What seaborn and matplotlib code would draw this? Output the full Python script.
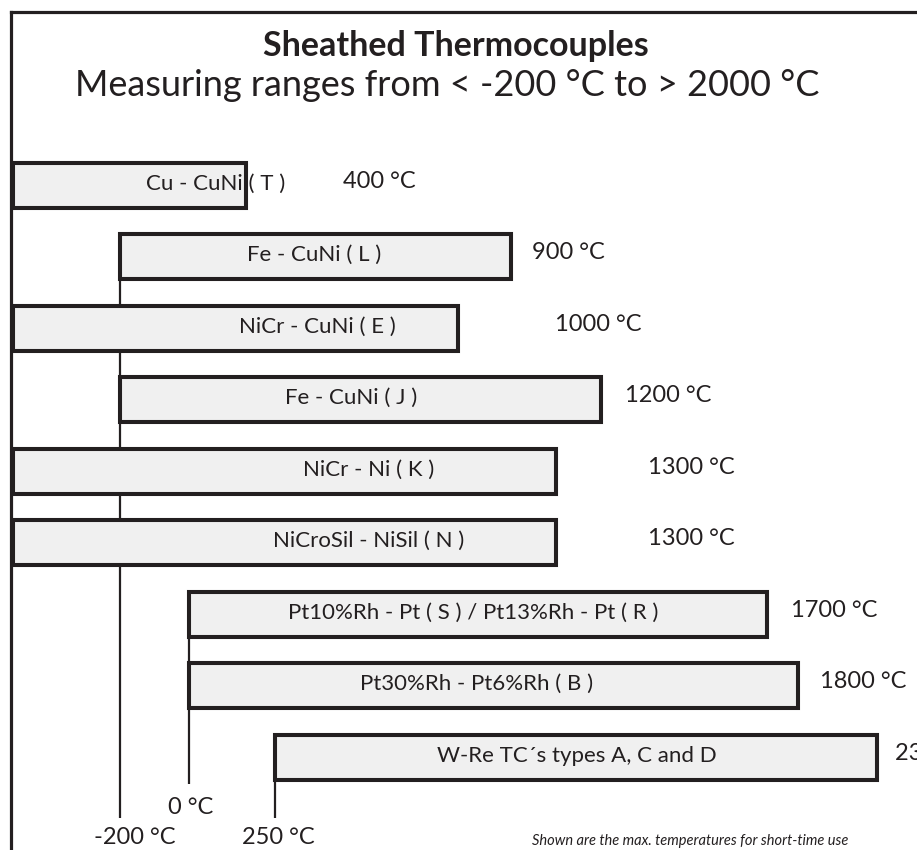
import numpy as np
import pandas as pd
import matplotlib
matplotlib.use("Agg")
import matplotlib.pyplot as plt
from matplotlib.patches import Rectangle
import seaborn as sns

# thermocouple pairs, top to bottom
pairs = ["Cu - CuNi ( T )", "Fe - CuNi ( L )", "NiCr - CuNi ( E )", "Fe - CuNi ( J )",
         "NiCr - Ni ( K )", "NiCroSil - NiSil ( N )",
         "Pt10%Rh - Pt ( S ) / Pt13%Rh - Pt ( R )", "Pt30%Rh - Pt6%Rh ( B )",
         "W-Re TC´s types A, C and D"]
# bar extents as drawn in the schematic, on the °C axis (left-edge bars start below -200)
bar_start = [-510, -200, -510, -200, -510, -510, 0, 0, 250]
bar_end = [165, 933, 780, 1194, 1064, 1064, 1675, 1765, 1994]
max_temp = ["400 °C", "900 °C", "1000 °C", "1200 °C", "1300 °C", "1300 °C",
            "1700 °C", "1800 °C", "2320 °C"]
# lower limits marked under the bars
ref_temps = [-200, 0, 250]
ref_labels = ["-200 °C", "0 °C", "250 °C"]

# layout: where the texts sit
name_x = [77, 362, 371, 470, 522, 522, 823, 833, 1123]
max_x = [446, 994, 1061, 1264, 1330, 1330, 1745, 1829, 2046]
ref_line_end = [8.85, 8.38, 8.85]
ref_label_y = [9.12, 8.70, 9.12]
ref_label_dx = [43, 6, 8]

ink = "#231f20"
fill = "#f0f0f0"

sns.set_theme(style="white")
plt.rcParams["font.family"] = ["Lato", "DejaVu Sans"]

fig = plt.figure(figsize=(9.17, 8.5), dpi=100)
ax = fig.add_axes([10.5 / 917, 0, 1 - 10.5 / 917, 1 - 11.5 / 850])

df = pd.DataFrame({"pair": pairs, "span": np.subtract(bar_end, bar_start)})
sns.barplot(data=df, x="span", y="pair", orient="h", width=0.63, color=fill,
            saturation=1, edgecolor=ink, linewidth=2.9, ax=ax, zorder=3)
# shift each bar to its lower limit, and redraw its frame above the names
for patch, s in zip(list(ax.patches), bar_start):
    patch.set_x(s)
    ax.add_patch(Rectangle(patch.get_xy(), patch.get_width(), patch.get_height(),
                           fill=False, edgecolor=ink, linewidth=2.9, zorder=5))

# vertical marker lines for the lower limits
for t, y_end in zip(ref_temps, ref_line_end):
    y_top = bar_start.index(t)
    ax.plot([t, t], [y_top, y_end], color=ink, lw=1.6, zorder=1, solid_capstyle="butt")

for t, lab, y, dx in zip(ref_temps, ref_labels, ref_label_y, ref_label_dx):
    ax.text(t + dx, y, lab, ha="center", va="center", fontsize=17, color=ink)

for i, (name, nx) in enumerate(zip(pairs, name_x)):
    ax.text(nx, i - 0.02, name, ha="center", va="center", fontsize=16, color=ink, zorder=4)

for i, (lab, mx) in enumerate(zip(max_temp, max_x)):
    ax.text(mx, i - 0.05, lab, ha="left", va="center", fontsize=17, color=ink, clip_on=False)

ax.set_xlim(-517.4, 2110)
ax.set_ylim(9.30, -2.427)
ax.set_xticks([])
ax.set_yticks([])
ax.set_xlabel("")
ax.set_ylabel("")
for side in ["right", "bottom"]:
    ax.spines[side].set_visible(False)
for side in ["left", "top"]:
    ax.spines[side].set_color(ink)
    ax.spines[side].set_linewidth(2.3)

fig.text(456 / 917, 1 - 46 / 850, "Sheathed Thermocouples", ha="center", va="center",
         fontsize=24.5, fontweight="bold", color=ink)
fig.text(447 / 917, 1 - 86 / 850, "Measuring ranges from < -200 °C to > 2000 °C",
         ha="center", va="center", fontsize=26, color=ink)
fig.text(848 / 917, 1 - 841 / 850, "Shown are the max. temperatures for short-time use",
         ha="right", va="center", fontsize=10.5, style="italic", color=ink)

fig.savefig("out.png", dpi=100)
